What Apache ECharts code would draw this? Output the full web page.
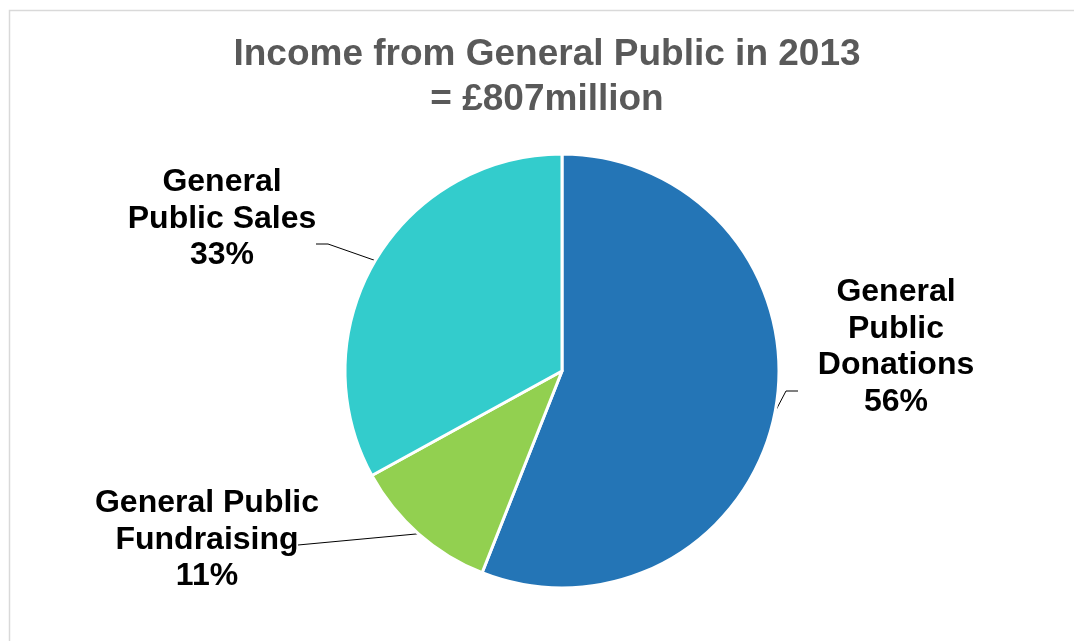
<!DOCTYPE html>
<html>
<head>
<meta charset="utf-8">
<script src="https://cdn.jsdelivr.net/npm/echarts@6/dist/echarts.min.js"></script>
<style>
  html, body { margin: 0; padding: 0; background: #ffffff; }
  #chart { width: 1074px; height: 641px; }
</style>
</head>
<body>
<div id="chart"></div>
<script>
// Income sources (share of total, %), drawn clockwise from 12 o'clock
const categories = ['General\nPublic\nDonations', 'General Public\nFundraising', 'General\nPublic Sales'];
const shares = [56, 11, 33];
const sliceColors = ['#2475b6', '#92d050', '#33cccc'];
const titleLines = ['Income from General Public in 2013', '= \u00a3807million'];

// Where each label block sits and how its leader line runs to it
const labelSpots = [
  { x: 896, y: 347, line: [[786, 391], [798, 391]] },
  { x: 207, y: 540, line: [[298, 545]] },
  { x: 222, y: 219, line: [[328, 244], [316, 244]] }
];

const chart = echarts.init(document.getElementById('chart'), null, { renderer: 'canvas' });

chart.setOption({
  backgroundColor: '#ffffff',
  animation: false,
  title: {
    text: titleLines.join('\n'),
    left: 547,
    top: 32,
    textAlign: 'center',
    padding: 0,
    textStyle: {
      fontFamily: 'Liberation Sans, Arial, sans-serif',
      fontWeight: 'bold',
      fontSize: 37,
      lineHeight: 45,
      color: '#595959'
    }
  },
  graphic: [{
    type: 'rect',
    silent: true,
    shape: { x: 9.5, y: 10.5, width: 1200, height: 800 },
    style: { fill: null, stroke: '#d9d9d9', lineWidth: 1.5 }
  }],
  series: [{
    type: 'pie',
    center: [562, 371],
    radius: 217,
    startAngle: 90,
    clockwise: true,
    avoidLabelOverlap: false,
    percentPrecision: 0,
    data: categories.map((name, i) => ({
      name: name,
      value: shares[i],
      itemStyle: { color: sliceColors[i] }
    })),
    itemStyle: { borderColor: '#ffffff', borderWidth: 3 },
    label: {
      show: true,
      position: 'outside',
      formatter: '{b}\n{d}%',
      fontFamily: 'Liberation Sans, Arial, sans-serif',
      fontWeight: 'bold',
      fontSize: 32,
      lineHeight: 36.5,
      color: '#000000',
      align: 'center'
    },
    labelLine: {
      show: true,
      length: 20,
      length2: 10,
      lineStyle: { color: '#000000', width: 1 }
    },
    labelLayout: function (params) {
      const spot = labelSpots[params.dataIndex];
      const out = { x: spot.x, y: spot.y, align: 'center', verticalAlign: 'middle' };
      if (params.labelLinePoints) {
        out.labelLinePoints = [params.labelLinePoints[0]].concat(spot.line);
      }
      return out;
    },
    emphasis: { disabled: true }
  }]
});
</script>
</body>
</html>
